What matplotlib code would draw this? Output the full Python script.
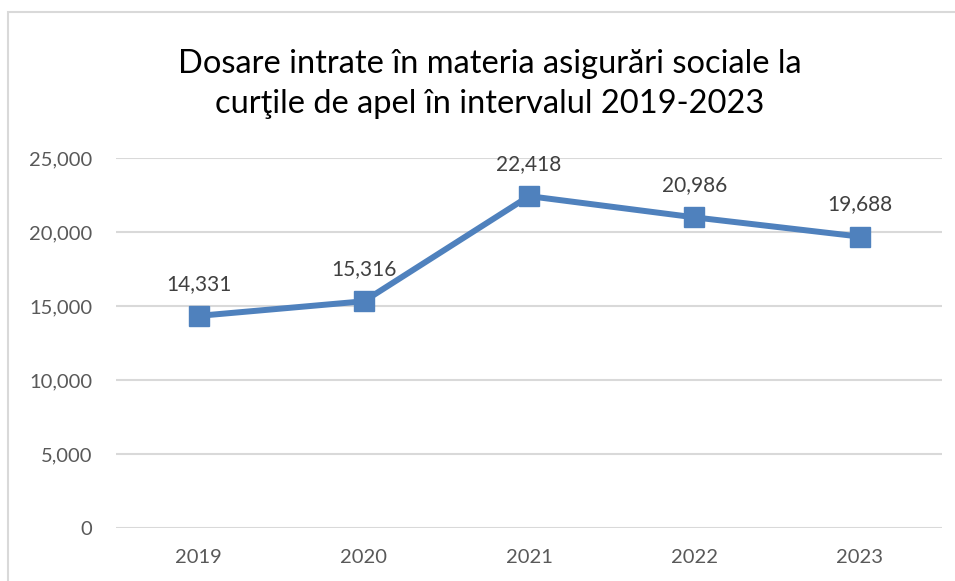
import matplotlib.pyplot as plt
from matplotlib.patches import Rectangle
from matplotlib.ticker import FuncFormatter

years = ["2019", "2020", "2021", "2022", "2023"]
dosare = [14331, 15316, 22418, 20986, 19688]
y_ticks = [0, 5000, 10000, 15000, 20000, 25000]

title = "Dosare intrate în materia asigurări sociale la\ncurţile de apel în intervalul 2019-2023"

plt.rcParams['font.family'] = ['Lato', 'DejaVu Sans']

fig = plt.figure(figsize=(9.55, 5.81), dpi=100)
ax = fig.add_axes([0.1215, 0.0912, 0.865, 0.637])

# chart frame (cropped on right/bottom in the original)
fig.patches.append(Rectangle((8 / 955, -0.1), 1.2, 1 - 12 / 581 + 0.1,
                             transform=fig.transFigure, fill=False,
                             edgecolor="#D9D9D9", linewidth=1.5))

x = list(range(len(years)))
ax.plot(x, dosare, color="#4F81BD", linewidth=4.3, marker="s",
        markersize=14, zorder=3)

for xi, v in zip(x, dosare):
    ax.annotate(f"{v:,}", (xi, v), xytext=(0, 16), textcoords="offset points",
                ha="center", va="bottom", fontsize=15, color="#404040")

ax.set_xlim(-0.5, len(years) - 0.5)
ax.set_ylim(0, 25000)
ax.set_xticks(x)
ax.set_xticklabels(years)
ax.set_yticks(y_ticks)
ax.yaxis.set_major_formatter(FuncFormatter(lambda v, p: f"{int(v):,}"))
ax.tick_params(axis="both", length=0, labelsize=14.5, labelcolor="#595959")
ax.tick_params(axis="x", pad=15)
ax.tick_params(axis="y", pad=17)
ax.grid(axis="y", color="#D9D9D9", linewidth=1.5)
ax.set_axisbelow(True)
for s in ax.spines.values():
    s.set_visible(False)

fig.text(490 / 955, 1 - 84 / 581, title, ha="center", va="center",
         fontsize=23.5, color="#000000", linespacing=1.45)

fig.savefig("out.png", dpi=100)
